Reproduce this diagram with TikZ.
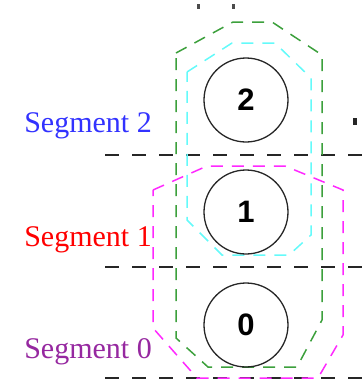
\documentclass[tikz,border=0pt]{standalone}
\usepackage{fontspec}
\setmainfont{Liberation Serif}
\setsansfont{Liberation Sans}
\definecolor{segpurple}{RGB}{150,40,160}
\definecolor{hullgreen}{RGB}{60,160,60}
\definecolor{hullcyan}{RGB}{100,250,250}
\definecolor{hullmagenta}{RGB}{255,40,255}
\definecolor{segblue}{RGB}{50,50,255}
\definecolor{segred}{RGB}{255,0,0}
\begin{document}
\begin{tikzpicture}[
    x=1pt,
    y=-1pt,
    seam/.style={draw=black!85, line width=1.6pt, dash pattern=on 14pt off 13pt},
    hull/.style={line width=1.5pt, dash pattern=on 12pt off 9pt},
    ring/.style={circle, draw=black!85, line width=1.3pt, minimum size=84pt,
      inner sep=0pt, font=\sffamily\bfseries\fontsize{31}{36}\selectfont},
    seglabel/.style={anchor=base east, inner sep=0pt,
      font=\fontsize{30}{36}\selectfont}
  ]
    % Page is 364 x 381 units, y grows downwards.
    \useasboundingbox (0,0) rectangle (364,381);

    % Segment boundaries.
    \foreach \y in {155,267,378} {
      \draw[seam] (105,\y) -- (364,\y);
    }

    % Dashed hulls round the segment groups.
    \draw[hull, draw=hullgreen]
      (176,53) -- (233,22) -- (272,22) -- (322,55) -- (322,320)
      -- (297,367) -- (208,367) -- (176,338) -- cycle;
    \draw[hull, draw=hullcyan]
      (187,72) -- (232,43) -- (275,43) -- (311,78) -- (311,235)
      -- (289,255) -- (222,255) -- (187,220) -- cycle;
    \draw[hull, draw=hullmagenta]
      (153,190) -- (207,166) -- (285,166) -- (343,190) -- (343,335)
      -- (318,378) -- (197,378) -- (153,328) -- cycle;

    % Cut-off fragments at the edges.
    \fill[black!70] (197,4) rectangle (200,9);
    \fill[black!70] (232,4) rectangle (235,9);
    \fill[black!85] (353,118) rectangle (357,125);

    % Segment labels.
    \node[seglabel, segblue] (lab2) at (152,132) {Segment 2};
    \node[seglabel, segred] (lab1) at (152,246) {Segment 1};
    \node[seglabel, segpurple] (lab0) at (152,358) {Segment 0};

    % Segment circles.
    \foreach \n/\y in {2/100,1/212,0/325} {
      \node[ring] (seg\n) at (246,\y) {\n};
    }
  \end{tikzpicture}
\end{document}
